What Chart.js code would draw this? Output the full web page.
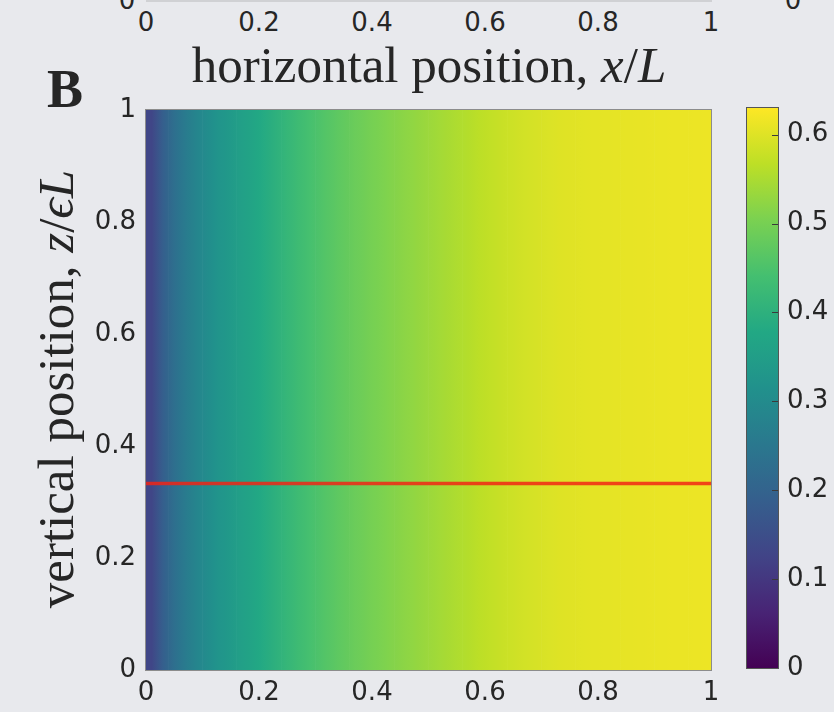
<!DOCTYPE html>
<html>
<head>
<meta charset="utf-8">
<script src="https://cdn.jsdelivr.net/npm/chart.js@4.4.1/dist/chart.umd.min.js"></script>
<style>
    body { margin: 0; width: 834px; height: 712px; overflow: hidden; position: relative; background: #e8e9ed; color: #262626; font-family: "DejaVu Sans", sans-serif; }
    canvas { position: absolute; }
    .serif { position: absolute; font-family: "Liberation Serif", serif; font-size: 51px; line-height: 1; white-space: nowrap; }
    .tick { position: absolute; font-size: 26px; line-height: 1; transform: translateX(-50%); }
</style>
</head>
<body>
<!-- remains of panel A above -->
<div style="position:absolute;left:146px;top:0;width:566px;height:2px;background:#d0d1d4"></div>
<span class="tick" style="left:127px;top:-13px">0</span>
<span class="tick" style="left:793px;top:-13px">0</span>
<div id="top-ticks"></div>
<div class="serif" style="left:429px;top:40px;transform:translateX(-50%)">horizontal position, <i>x</i>/<i>L</i></div>

<div class="serif" style="left:47px;top:62px;font-size:54px;font-weight:bold">B</div>
<div class="serif" style="left:56px;top:389px;transform:translate(-50%,-50%) rotate(-90deg)">vertical position, <i>z</i>/<i>ϵL</i></div>

<canvas id="heat" width="834" height="712" style="left:0;top:0"></canvas>
<canvas id="cbar" width="94" height="600" style="left:740px;top:90px"></canvas>

<script>
// column centres across x/L and the field value read in each column
const colX = [0.01, 0.03, 0.05, 0.07, 0.09, 0.11, 0.13, 0.15, 0.17, 0.19,
              0.21, 0.23, 0.25, 0.27, 0.29, 0.31, 0.33, 0.35, 0.37, 0.39,
              0.41, 0.43, 0.45, 0.47, 0.49, 0.51, 0.53, 0.55, 0.57, 0.59,
              0.61, 0.63, 0.65, 0.67, 0.69, 0.71, 0.73, 0.75, 0.77, 0.79,
              0.81, 0.83, 0.85, 0.87, 0.89, 0.91, 0.93, 0.95, 0.97, 0.99];
const colValue = [0.13, 0.19, 0.23, 0.26, 0.285, 0.305, 0.325, 0.34, 0.355, 0.37,
                  0.385, 0.40, 0.415, 0.43, 0.443, 0.455, 0.466, 0.476, 0.486, 0.495,
                  0.503, 0.511, 0.518, 0.525, 0.532, 0.539, 0.546, 0.553, 0.559, 0.566,
                  0.572, 0.578, 0.583, 0.588, 0.592, 0.596, 0.599, 0.601, 0.603, 0.605,
                  0.606, 0.607, 0.608, 0.609, 0.610, 0.611, 0.612, 0.612, 0.613, 0.614];

// red line
const lineX = [0, 1];
const lineZ = [0.333, 0.333];

const xTicks = [0, 0.2, 0.4, 0.6, 0.8, 1];
const zTicks = [0, 0.2, 0.4, 0.6, 0.8, 1];
const cbarTicks = [0, 0.1, 0.2, 0.3, 0.4, 0.5, 0.6];
const cbarMax = 0.63;

const viridis = ['#440154', '#482475', '#414487', '#355f8d', '#2a788e', '#21918c',
                 '#22a884', '#44bf70', '#7ad151', '#bddf26', '#fde725'];

// ----- helpers -----
function hexRgb(h) {
    return [1, 3, 5].map(k => parseInt(h.slice(k, k + 2), 16));
}
const viridisRgb = viridis.map(hexRgb);

function viridisAt(t) {
    t = Math.min(1, Math.max(0, t));
    const s = t * (viridisRgb.length - 1);
    const i = Math.min(Math.floor(s), viridisRgb.length - 2);
    const f = s - i;
    const a = viridisRgb[i], b = viridisRgb[i + 1];
    const c = a.map((v, k) => Math.round(v + (b[k] - v) * f));
    return `rgb(${c[0]},${c[1]},${c[2]})`;
}

// shade each column smoothly towards its neighbours (like shading interp)
function heatColor(ctx) {
    if (ctx.type !== 'data') return;
    const i = ctx.dataIndex;
    const chart = ctx.chart;
    const v = colValue[i];
    const xs = chart.scales.x;
    if (!chart.chartArea || !xs) return viridisAt(v / cbarMax);
    const half = (colX[1] - colX[0]) / 2;
    const x0 = xs.getPixelForValue(colX[i] - half);
    const x1 = xs.getPixelForValue(colX[i] + half);
    const vl = i > 0 ? (colValue[i - 1] + v) / 2 : v;
    const vr = i < colValue.length - 1 ? (colValue[i + 1] + v) / 2 : v;
    const g = chart.ctx.createLinearGradient(x0, 0, x1, 0);
    g.addColorStop(0, viridisAt(vl / cbarMax));
    g.addColorStop(0.5, viridisAt(v / cbarMax));
    g.addColorStop(1, viridisAt(vr / cbarMax));
    return g;
}

function cbarColor(ctx) {
    const chart = ctx.chart;
    if (!chart.chartArea) return viridis[5];
    const ys = chart.scales.y;
    const g = chart.ctx.createLinearGradient(0, ys.getPixelForValue(0), 0, ys.getPixelForValue(cbarMax));
    viridis.forEach((c, i) => g.addColorStop(i / (viridis.length - 1), c));
    return g;
}

const setTicks = list => scale => { scale.ticks = list.map(v => ({ value: v })); };
const tickFont = { family: 'DejaVu Sans', size: 26 };

const plotFrame = {
    id: 'plotFrame',
    afterDatasetsDraw(chart) {
        const { left, top, right, bottom } = chart.chartArea;
        const c = chart.ctx;
        c.save();
        c.strokeStyle = '#8c8c8c';
        c.lineWidth = 1;
        c.strokeRect(Math.round(left) - 0.5, Math.round(top) - 0.5, Math.round(right - left) + 1, Math.round(bottom - top) + 1);
        c.restore();
    }
};

const cbarFrame = {
    id: 'cbarFrame',
    afterDatasetsDraw(chart) {
        const { left, top, right, bottom } = chart.chartArea;
        const ys = chart.scales.y;
        const c = chart.ctx;
        c.save();
        c.strokeStyle = '#3a3a3a';
        c.lineWidth = 1;
        c.beginPath();
        cbarTicks.slice(1).forEach(v => {
            const y = Math.round(ys.getPixelForValue(v)) + 0.5;
            c.moveTo(right - 6, y);
            c.lineTo(right, y);
        });
        c.stroke();
        c.strokeStyle = '#555';
        c.strokeRect(Math.round(left) - 0.5, Math.round(top) - 0.5, Math.round(right - left) + 1, Math.round(bottom - top) + 1);
        c.restore();
    }
};

// tick labels of the panel above
const topTicks = document.getElementById('top-ticks');
xTicks.forEach(v => {
    const s = document.createElement('span');
    s.className = 'tick';
    s.style.left = (146 + v * 565) + 'px';
    s.style.top = '9px';
    s.textContent = String(v);
    topTicks.appendChild(s);
});

// ----- main heat map -----
new Chart(document.getElementById('heat'), {
    data: {
        datasets: [
            {
                type: 'line',
                data: lineX.map((x, i) => ({ x, y: lineZ[i] })),
                borderColor: 'rgba(242, 36, 20, 0.84)',
                borderWidth: 3.5,
                pointRadius: 0,
                order: 0
            },
            {
                type: 'bar',
                data: colX.map(x => ({ x, y: [0, 1] })),
                backgroundColor: heatColor,
                borderWidth: 0,
                barPercentage: 1,
                categoryPercentage: 1,
                order: 1
            }
        ]
    },
    options: {
        responsive: false,
        animation: false,
        events: [],
        layout: { padding: { left: 0, top: 110, right: 123, bottom: 0 } },
        plugins: { legend: { display: false }, tooltip: { enabled: false } },
        scales: {
            x: {
                type: 'linear', min: 0, max: 1, offset: false,
                afterBuildTicks: setTicks(xTicks),
                afterFit: s => { s.height = 42; },
                grid: { display: false, drawTicks: false, offset: false },
                border: { display: false },
                ticks: { padding: 8, color: '#262626', font: tickFont, maxRotation: 0, callback: v => String(v) }
            },
            y: {
                type: 'linear', min: 0, max: 1,
                afterBuildTicks: setTicks(zTicks),
                afterFit: s => { s.width = 146; },
                grid: { display: false, drawTicks: false },
                border: { display: false },
                ticks: { padding: 10, color: '#262626', font: tickFont, callback: v => String(v) }
            }
        }
    },
    plugins: [plotFrame]
});

// ----- colour bar -----
new Chart(document.getElementById('cbar'), {
    type: 'bar',
    data: {
        labels: [''],
        datasets: [{
            data: [[0, cbarMax]],
            backgroundColor: cbarColor,
            borderWidth: 0,
            barPercentage: 1,
            categoryPercentage: 1
        }]
    },
    options: {
        responsive: false,
        animation: false,
        events: [],
        layout: { padding: { left: 7, top: 18, right: 0, bottom: 22 } },
        plugins: { legend: { display: false }, tooltip: { enabled: false } },
        scales: {
            x: { display: false },
            y: {
                position: 'right', min: 0, max: cbarMax,
                afterBuildTicks: setTicks(cbarTicks),
                afterFit: s => { s.width = 56; s.paddingTop = 0; s.paddingBottom = 0; },
                grid: { display: false, drawTicks: false },
                border: { display: false },
                ticks: { padding: 9, color: '#262626', font: tickFont, callback: v => String(v) }
            }
        }
    },
    plugins: [cbarFrame]
});
</script>
</body>
</html>
